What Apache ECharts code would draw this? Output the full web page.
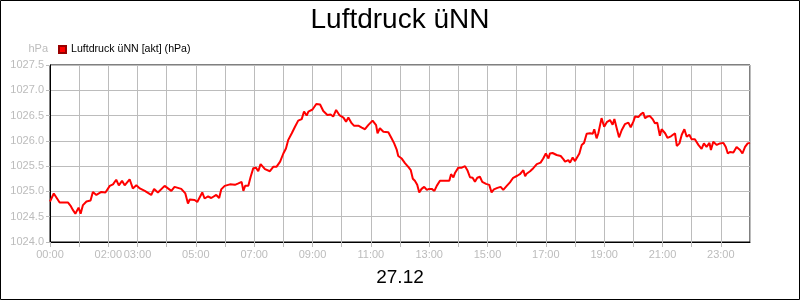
<!DOCTYPE html>
<html>
<head>
<meta charset="utf-8">
<script src="https://cdn.jsdelivr.net/npm/echarts@6/dist/echarts.min.js"></script>
<style>html,body{margin:0;padding:0;background:#fff}#c{width:800px;height:300px}</style>
</head>
<body>
<div id="c"></div>
<script>
var titleText = 'Luftdruck üNN';
var dateText = '27.12';
var seriesName = 'Luftdruck üNN [akt] (hPa)';
var unitName = 'hPa';
var shownXLabels = ['00:00','02:00','03:00','05:00','07:00','09:00','11:00','13:00','15:00','17:00','19:00','21:00','23:00'];

var times = [0.00,0.04,0.13,0.18,0.33,0.62,0.70,0.79,0.87,0.98,1.05,1.13,1.25,1.39,1.47,1.59,1.76,1.90,2.05,2.16,2.27,2.36,2.47,2.56,2.73,2.84,2.96,3.08,3.25,3.47,3.57,3.70,3.93,4.16,4.27,4.50,4.64,4.73,4.79,4.96,5.05,5.13,5.22,5.30,5.42,5.53,5.70,5.80,5.85,5.87,5.99,6.17,6.34,6.46,6.57,6.63,6.69,6.80,6.88,6.97,7.06,7.14,7.22,7.37,7.54,7.66,7.77,7.89,8.00,8.09,8.17,8.29,8.40,8.51,8.63,8.71,8.80,8.86,9.00,9.13,9.26,9.37,9.51,9.62,9.71,9.81,9.92,10.06,10.15,10.23,10.34,10.42,10.57,10.69,10.80,10.91,11.06,11.18,11.23,11.31,11.43,11.60,11.71,11.80,11.89,11.94,12.06,12.17,12.29,12.37,12.44,12.51,12.59,12.66,12.74,12.83,12.92,13.00,13.09,13.18,13.26,13.37,13.54,13.69,13.75,13.83,13.89,14.00,14.12,14.23,14.31,14.40,14.49,14.57,14.65,14.74,14.82,14.95,15.06,15.14,15.22,15.34,15.45,15.54,15.66,15.77,15.88,16.02,16.11,16.23,16.29,16.34,16.46,16.57,16.69,16.82,16.91,17.00,17.09,17.14,17.23,17.37,17.51,17.60,17.66,17.77,17.83,17.92,18.00,18.06,18.15,18.23,18.31,18.40,18.51,18.61,18.66,18.74,18.80,18.91,19.00,19.09,19.20,19.29,19.35,19.43,19.51,19.60,19.71,19.83,19.91,20.00,20.06,20.17,20.26,20.34,20.40,20.48,20.57,20.66,20.74,20.82,20.91,20.97,21.09,21.17,21.29,21.43,21.49,21.58,21.66,21.75,21.83,21.92,22.00,22.11,22.23,22.34,22.42,22.51,22.61,22.66,22.74,22.86,22.97,23.09,23.17,23.24,23.31,23.43,23.54,23.66,23.74,23.83,23.92,24.00];

var pressure = [1024.80,1024.82,1024.96,1024.94,1024.78,1024.78,1024.72,1024.63,1024.56,1024.68,1024.56,1024.73,1024.80,1024.82,1024.99,1024.93,1024.99,1024.98,1025.11,1025.14,1025.23,1025.12,1025.21,1025.12,1025.24,1025.06,1025.12,1025.06,1025.01,1024.93,1025.05,1024.98,1025.11,1025.01,1025.09,1025.05,1024.96,1024.76,1024.84,1024.83,1024.79,1024.88,1024.98,1024.86,1024.90,1024.87,1024.93,1024.87,1024.88,1025.04,1025.11,1025.14,1025.13,1025.16,1025.19,1025.01,1025.11,1025.11,1025.29,1025.46,1025.47,1025.40,1025.54,1025.44,1025.40,1025.49,1025.49,1025.59,1025.75,1025.85,1026.02,1026.15,1026.28,1026.40,1026.43,1026.58,1026.50,1026.58,1026.62,1026.73,1026.72,1026.59,1026.51,1026.52,1026.48,1026.61,1026.51,1026.46,1026.38,1026.46,1026.35,1026.30,1026.30,1026.26,1026.23,1026.31,1026.40,1026.31,1026.15,1026.25,1026.18,1026.17,1026.05,1025.95,1025.82,1025.70,1025.65,1025.56,1025.48,1025.42,1025.25,1025.21,1025.13,1024.98,1025.05,1025.09,1025.03,1025.05,1025.05,1025.01,1025.11,1025.21,1025.21,1025.21,1025.34,1025.28,1025.37,1025.47,1025.47,1025.50,1025.42,1025.28,1025.27,1025.19,1025.27,1025.29,1025.19,1025.15,1025.13,1024.98,1025.04,1025.07,1025.09,1025.03,1025.11,1025.18,1025.27,1025.31,1025.34,1025.42,1025.30,1025.35,1025.40,1025.46,1025.54,1025.57,1025.65,1025.75,1025.65,1025.75,1025.76,1025.72,1025.70,1025.64,1025.59,1025.62,1025.57,1025.67,1025.60,1025.62,1025.75,1025.92,1025.96,1026.14,1026.15,1026.14,1026.23,1026.05,1026.15,1026.45,1026.28,1026.37,1026.41,1026.32,1026.43,1026.25,1026.07,1026.21,1026.33,1026.36,1026.27,1026.38,1026.48,1026.47,1026.53,1026.56,1026.45,1026.48,1026.49,1026.43,1026.35,1026.36,1026.10,1026.23,1026.15,1026.06,1026.09,1026.15,1025.90,1025.95,1026.12,1026.23,1026.08,1026.12,1026.03,1026.03,1025.92,1025.84,1025.95,1025.88,1025.96,1025.82,1025.98,1025.92,1025.95,1025.96,1025.88,1025.75,1025.78,1025.77,1025.88,1025.82,1025.75,1025.88,1025.95,1025.96];

var data = times.map(function (t, i) { return [t, pressure[i]]; });
var gray = '#bcbcbc';
var font = 'Liberation Sans, Arial, sans-serif';

var chart = echarts.init(document.getElementById('c'), null, {renderer: 'canvas'});
chart.setOption({
  animation: false,
  backgroundColor: '#fff',
  textStyle: {fontFamily: font},
  title: [
    {text: titleText, left: 'center', top: 1, textStyle: {fontSize: 28, fontWeight: 'normal', color: '#000', fontFamily: font}},
    {text: dateText, left: 'center', top: 263, textStyle: {fontSize: 19, fontWeight: 'normal', color: '#000', fontFamily: font}}
  ],
  legend: {
    left: 53, top: 39, icon: 'rect', itemWidth: 7, itemHeight: 7, itemGap: 5,
    textStyle: {fontSize: 10.6, color: '#000', fontFamily: font},
    data: [seriesName]
  },
  grid: {left: 50, right: 50, top: 65, bottom: 58, show: true, borderColor: '#000', borderWidth: 1, backgroundColor: 'transparent'},
  xAxis: {
    type: 'value', min: 0, max: 24, interval: 1,
    axisLine: {show: true, lineStyle: {color: '#000', width: 1}},
    axisTick: {show: true, length: 5, lineStyle: {color: gray}},
    splitLine: {show: true, lineStyle: {color: gray, width: 1}},
    axisLabel: {
      color: gray, fontSize: 11, margin: 7, fontFamily: font, showMaxLabel: false,
      formatter: function (v) {
        var s = (v < 10 ? '0' : '') + v + ':00';
        return shownXLabels.indexOf(s) >= 0 ? s : '';
      }
    }
  },
  yAxis: {
    type: 'value', min: 1024, max: 1027.5, interval: 0.5,
    name: unitName, nameLocation: 'end', nameGap: 11,
    nameTextStyle: {color: gray, fontSize: 11, align: 'right', padding: [0, 2, 0, 0], fontFamily: font},
    axisLine: {show: true, lineStyle: {color: '#000', width: 1}},
    axisTick: {show: true, length: 4, lineStyle: {color: gray}},
    splitLine: {show: true, lineStyle: {color: gray, width: 1}},
    axisLabel: {color: gray, fontSize: 11, margin: 6, fontFamily: font, formatter: function (v) { return v.toFixed(1); }}
  },
  series: [{
    name: seriesName, type: 'line', data: data, showSymbol: false, symbol: 'none',
    lineStyle: {color: '#ff0000', width: 2}, itemStyle: {color: '#ff0000', borderColor: '#900', borderWidth: 1}
  }],
  graphic: [{
    type: 'rect', shape: {x: 0.5, y: 0.5, width: 799, height: 299},
    style: {fill: 'none', stroke: '#000', lineWidth: 1}, silent: true, z: 100
  }]
});
</script>
</body>
</html>
